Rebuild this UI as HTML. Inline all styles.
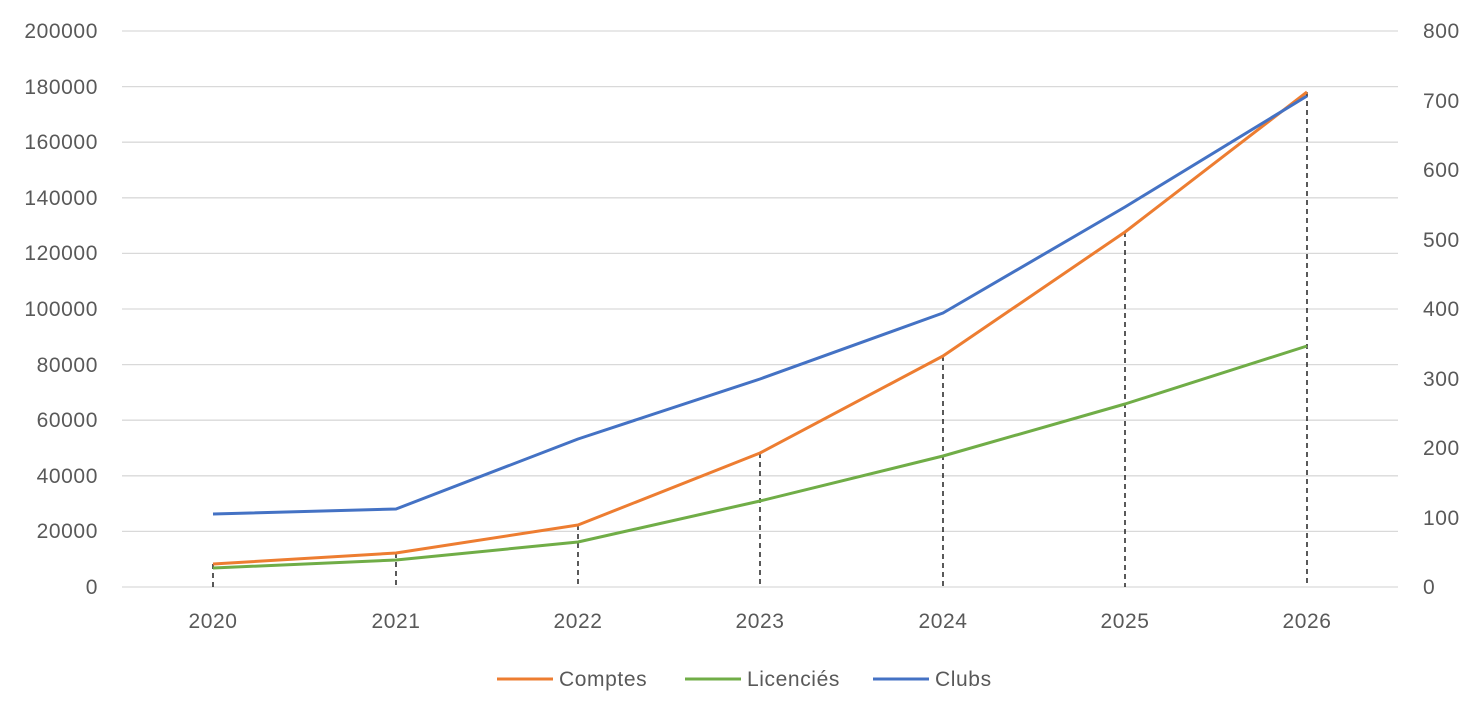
<!DOCTYPE html>
<html><head><style>body{margin:0;background:#fff}</style></head><body>
<svg width="1480" height="720" xmlns="http://www.w3.org/2000/svg" font-family="Liberation Sans, sans-serif" font-size="21" letter-spacing="0.6" fill="#595959">
<g stroke="#d9d9d9" stroke-width="1.3">
<line x1="122" x2="1398" y1="31" y2="31"/><line x1="122" x2="1398" y1="86.6" y2="86.6"/><line x1="122" x2="1398" y1="142.2" y2="142.2"/><line x1="122" x2="1398" y1="197.8" y2="197.8"/><line x1="122" x2="1398" y1="253.4" y2="253.4"/><line x1="122" x2="1398" y1="309" y2="309"/><line x1="122" x2="1398" y1="364.6" y2="364.6"/><line x1="122" x2="1398" y1="420.2" y2="420.2"/><line x1="122" x2="1398" y1="475.8" y2="475.8"/><line x1="122" x2="1398" y1="531.4" y2="531.4"/><line x1="122" x2="1398" y1="587" y2="587"/>
</g>
<g text-anchor="end">
<text x="98" y="38">200000</text><text x="98" y="94">180000</text><text x="98" y="149">160000</text><text x="98" y="205">140000</text><text x="98" y="260">120000</text><text x="98" y="316">100000</text><text x="98" y="372">80000</text><text x="98" y="427">60000</text><text x="98" y="483">40000</text><text x="98" y="538">20000</text><text x="98" y="594">0</text>
</g>
<g>
<text x="1423" y="38">800</text><text x="1423" y="108">700</text><text x="1423" y="177">600</text><text x="1423" y="247">500</text><text x="1423" y="316">400</text><text x="1423" y="386">300</text><text x="1423" y="455">200</text><text x="1423" y="525">100</text><text x="1423" y="594">0</text>
</g>
<g text-anchor="middle">
<text x="213" y="628">2020</text><text x="396" y="628">2021</text><text x="578" y="628">2022</text><text x="760" y="628">2023</text><text x="943" y="628">2024</text><text x="1125" y="628">2025</text><text x="1307" y="628">2026</text>
</g>
<g stroke="#000" stroke-width="1.3" stroke-dasharray="5,4">
<line x1="213" x2="213" y1="564" y2="587"/><line x1="396" x2="396" y1="553" y2="587"/><line x1="578" x2="578" y1="525" y2="587"/><line x1="760" x2="760" y1="453" y2="587"/><line x1="943" x2="943" y1="356" y2="587"/><line x1="1125" x2="1125" y1="232" y2="587"/><line x1="1307" x2="1307" y1="92" y2="587"/>
</g>
<g fill="none" stroke-width="3" stroke-linejoin="round">
<polyline stroke="#70ad47" points="213,568 396,560 578,542 760,501 943,456 1125,404 1307,346"/>
<polyline stroke="#ed7d31" points="213,564 396,553 578,525 760,453 943,356 1125,232 1307,92"/>
<polyline stroke="#4472c4" points="213,514 396,509 578,439 760,379 943,313 1125,207 1307,96"/>
</g>
<g stroke-width="3">
<line x1="497" x2="553" y1="679" y2="679" stroke="#ed7d31"/>
<line x1="685" x2="741" y1="679" y2="679" stroke="#70ad47"/>
<line x1="873" x2="929" y1="679" y2="679" stroke="#4472c4"/>
</g>
<text x="559" y="686">Comptes</text><text x="747" y="686">Licenciés</text><text x="935" y="686">Clubs</text>
</svg>
</body></html>
